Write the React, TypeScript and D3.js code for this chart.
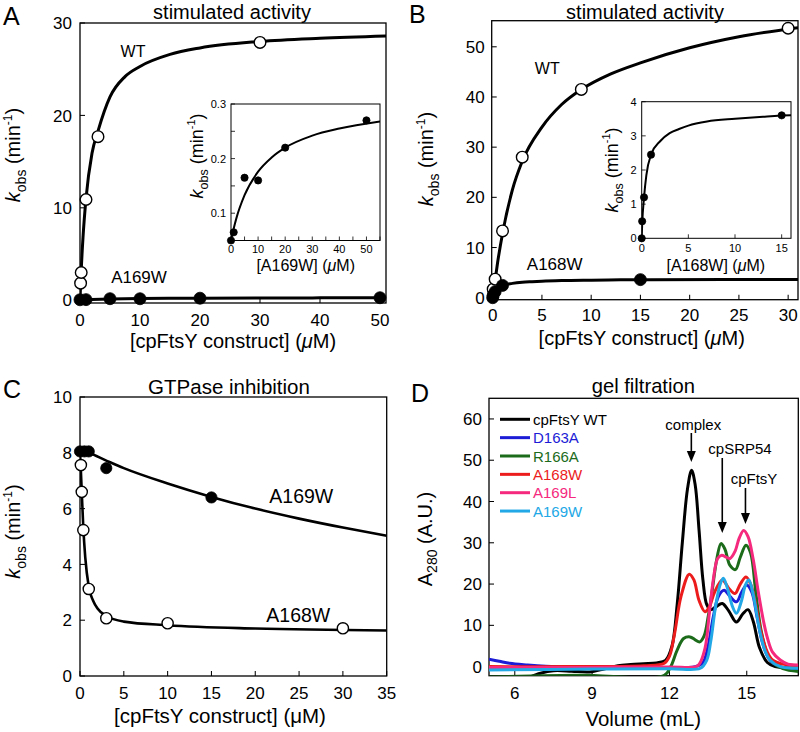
import React from "react";
import * as d3 from "d3";

type P = [number, number];
const FONT = "'Liberation Sans', Arial, Helvetica, sans-serif";

// ---------------- Panel A ----------------
const aWTPoints: P[] = [[0.1, 1.85], [0.2, 3.0], [1, 10.9], [3, 17.7], [30, 27.9]];
const aWTFit: P[] = [[0, 0], [0.1, 1.7], [0.2, 3.2], [0.5, 6.8], [1, 11], [2, 15.9], [3, 18.3], [5, 22.0], [7.5, 24.2], [10, 25.3], [15, 26.6], [20, 27.3], [30, 28], [40, 28.35], [51, 28.6]];
const a169WPoints: P[] = [[0, 0.05], [1, 0.065], [5, 0.165], [10, 0.16], [20, 0.22], [50, 0.27]];
const a169WFit: P[] = [[0, 0.05], [1, 0.072], [2, 0.091], [5, 0.133], [10, 0.176], [15, 0.202], [20, 0.22], [30, 0.242], [40, 0.255], [55, 0.268]];
const aXTicks = [0, 10, 20, 30, 40, 50];
const aYTicks = [0, 10, 20, 30];
const aInXTicks = [0, 10, 20, 30, 40, 50];
const aInXMinor = [5, 15, 25, 35, 45, 55];
const aInYTicks = [0.1, 0.2, 0.3];
const aInYMinor = [0.15, 0.25];

// ---------------- Panel B ----------------
const bWTPoints: P[] = [[0.05, 1.7], [0.25, 3.7], [1, 13.3], [3, 28], [9, 41.5], [30, 53.7]];
const bWTFit: P[] = [[0, 0], [0.25, 3.5], [0.5, 7], [1, 12.8], [2, 21.5], [3, 27.2], [5, 34], [7, 38.5], [9, 41.5], [12, 44.6], [15, 46.8], [20, 49.8], [25, 52], [31, 53.8]];
const b168WPoints: P[] = [[0, 0], [0.05, 0.5], [0.25, 1.2], [1, 2.45], [15, 3.6]];
const b168WFit: P[] = [[0, 0], [0.05, 0.4], [0.25, 1.2], [0.5, 1.85], [1, 2.45], [2, 2.85], [3, 3.08], [4, 3.2], [5, 3.3], [7, 3.42], [10, 3.5], [13, 3.56], [16, 3.6], [31, 3.63]];
const bXTicks = [0, 5, 10, 15, 20, 25, 30];
const bYTicks = [0, 10, 20, 30, 40, 50];
const bInXTicks = [0, 5, 10, 15];
const bInYTicks = [0, 1, 2, 3, 4];

// ---------------- Panel C ----------------
const c169WPoints: P[] = [[0, 8.05], [0.5, 8.05], [1, 8.05], [3, 7.45], [15, 6.4]];
const c169WFit: P[] = [[0, 8.1], [1, 8.0], [3, 7.72], [5, 7.45], [10, 6.9], [15, 6.42], [20, 6.0], [25, 5.64], [30, 5.32], [35, 5.03]];
const c168WPoints: P[] = [[0.1, 7.56], [0.2, 6.6], [0.38, 5.23], [1, 3.12], [3, 2.07], [10, 1.89], [30, 1.71]];
const c168WFit: P[] = [[0, 8.0], [0.1, 7.35], [0.2, 6.6], [0.38, 5.3], [0.6, 4.25], [1, 3.2], [1.5, 2.7], [2, 2.42], [3, 2.15], [5, 1.95], [10, 1.82], [20, 1.7], [35, 1.63]];
const cXTicks = [0, 5, 10, 15, 20, 25, 30, 35];
const cYTicks = [0, 2, 4, 6, 8, 10];

// ---------------- Panel D ----------------
const dNames = ["cpFtsY WT", "D163A", "R166A", "A168W", "A169L", "A169W"];
const dColors = ["#000000", "#1c1cd6", "#1b6b1b", "#ec1c1c", "#f5297d", "#22a8e6"];
const dWT: P[] = [[6.6, -2.5], [7.0, -1.6], [7.5, -1.0], [8.2, -1.1], [8.9, -1.3], [9.5, -0.5], [10.0, 0.2], [10.5, 0.5], [11.0, 0.7], [11.5, 0.9], [11.85, 1.5], [12.1, 5], [12.3, 15], [12.5, 30], [12.7, 43], [12.86, 47.6], [13.0, 44], [13.15, 33], [13.3, 21], [13.45, 15], [13.6, 13.8], [13.8, 14.5], [14.05, 15.3], [14.3, 13.5], [14.6, 10.8], [14.85, 12.8], [15.05, 13.8], [15.25, 11], [15.5, 4.5], [15.8, 1], [16.1, 0], [17, -0.3]];
const dD163A: P[] = [[5, 1.8], [5.4, 1.3], [5.8, 0.8], [6.5, 0.4], [7.2, 0.1], [8.5, -0.2], [9.8, -0.4], [11, -0.4], [12, -0.3], [13, 0], [13.3, 1], [13.5, 5], [13.7, 12], [13.9, 17], [14.12, 18.5], [14.35, 17], [14.6, 15.7], [14.8, 18], [15.0, 19.8], [15.2, 18], [15.4, 12], [15.6, 6], [15.85, 2], [16.1, 0.5], [16.5, -0.3], [17, -0.5]];
const dR166A: P[] = [[5, -2.5], [8.5, -2.1], [11.8, -2.1], [12.05, 0], [12.3, 4], [12.55, 6.8], [12.8, 7.2], [13.0, 6.5], [13.18, 6.0], [13.35, 7.5], [13.5, 12], [13.65, 18], [13.85, 26.5], [14.0, 29.8], [14.15, 28.5], [14.35, 24.5], [14.56, 23.5], [14.75, 26.5], [14.97, 29.4], [15.15, 27.5], [15.35, 18], [15.55, 9], [15.8, 3], [16.0, 1], [16.4, -0.5], [17, -1.2]];
const dA168W: P[] = [[5, 0], [8, 0], [11, 0.2], [11.8, 0.8], [12.0, 2.5], [12.2, 8], [12.45, 17], [12.77, 22.4], [12.95, 21], [13.15, 16], [13.38, 13.3], [13.55, 14.5], [13.75, 18], [14.05, 21], [14.3, 19], [14.54, 17.7], [14.75, 20], [14.97, 21.7], [15.15, 20], [15.35, 15], [15.55, 8.5], [15.8, 3.5], [16.0, 1.6], [16.4, 0.6], [17, 0.3]];
const dA169L: P[] = [[5, -0.2], [9, -0.2], [12, -0.1], [13.0, -0.1], [13.15, 0.5], [13.38, 4.4], [13.55, 13], [13.7, 21], [13.87, 26.2], [14.03, 27], [14.2, 26.5], [14.35, 26.2], [14.55, 28], [14.7, 31], [14.88, 33], [15.05, 31.5], [15.25, 26], [15.45, 18], [15.65, 11], [15.8, 7], [16.0, 3.5], [16.3, 1.6], [16.6, 0.6], [17, 0.4]];
const dA169W: P[] = [[5, -0.8], [9, -0.6], [12, -0.5], [13.2, -0.4], [13.45, 1.6], [13.6, 6], [13.77, 13.7], [13.95, 19.5], [14.09, 21.4], [14.25, 19], [14.45, 14.5], [14.6, 12.9], [14.8, 16], [14.95, 19.8], [15.08, 21], [15.25, 17.5], [15.5, 8.8], [15.7, 4], [15.9, 1.6], [16.3, 0], [17, -0.4]];
const dTraces = [dWT, dD163A, dR166A, dA168W, dA169L, dA169W];
const dXTicks = [6, 9, 12, 15];
const dYTicks = [0, 10, 20, 30, 40, 50, 60];
const dPeakLabels = ["complex", "cpSRP54", "cpFtsY"];
const dPeakX = [12.85, 14.05, 14.95];

// ---------------- scales ----------------
const axA = d3.scaleLinear().domain([0, 51]).range([80, 386]);
const ayA = d3.scaleLinear().domain([-0.3, 30]).range([303, 23]);
const axAi = d3.scaleLinear().domain([0, 55]).range([231, 380]);
const ayAi = d3.scaleLinear().domain([0.05, 0.3]).range([240.5, 104]);
const axB = d3.scaleLinear().domain([-0.1, 31]).range([491.7, 798]);
const ayB = d3.scaleLinear().domain([-0.4, 55.2]).range([299.7, 20.7]);
const axBi = d3.scaleLinear().domain([0, 16]).range([641.7, 791]);
const ayBi = d3.scaleLinear().domain([0, 4]).range([238.3, 101.7]);
const axC = d3.scaleLinear().domain([0, 35]).range([80, 386.7]);
const ayC = d3.scaleLinear().domain([0, 10]).range([676, 397]);
const axD = d3.scaleLinear().domain([5, 17]).range([489, 798.3]);
const ayD = d3.scaleLinear().domain([-2.2, 65]).range([675.7, 398.3]);

type S = d3.ScaleLinear<number, number>;

function lineFor(xs: S, ys: S, data: P[], curve: d3.CurveFactory = d3.curveMonotoneX) {
  return d3.line<P>().x((d) => xs(d[0])).y((d) => ys(d[1])).curve(curve)(data) || "";
}

function Axes(props: {
  xs: S; ys: S; xTicks: number[]; yTicks: number[]; xMinor?: number[]; yMinor?: number[];
  tick?: number; minor?: number; fs: number; xOff: number; yOff: number;
  fmtY?: (d: number) => string; sw?: number; fill?: string;
}) {
  const { xs, ys, xTicks, yTicks, xMinor = [], yMinor = [], tick = 5, minor = 3, fs, xOff, yOff, sw = 1.3, fill = "none" } = props;
  const fmtY = props.fmtY || ((d: number) => String(d));
  const [x0, x1] = xs.range();
  const [y0, y1] = ys.range();
  return (
    <g>
      <rect x={x0} y={y1} width={x1 - x0} height={y0 - y1} fill={fill} stroke="#000" strokeWidth={sw} />
      {xTicks.map((t) => (
        <line key={"xt" + t} x1={xs(t)} x2={xs(t)} y1={y0} y2={y0 - tick} stroke="#000" strokeWidth={sw * 0.8} />
      ))}
      {xMinor.map((t) => (
        <line key={"xm" + t} x1={xs(t)} x2={xs(t)} y1={y0} y2={y0 - minor} stroke="#000" strokeWidth={sw * 0.8} />
      ))}
      {yTicks.map((t) => (
        <line key={"yt" + t} x1={x0} x2={x0 + tick} y1={ys(t)} y2={ys(t)} stroke="#000" strokeWidth={sw * 0.8} />
      ))}
      {yMinor.map((t) => (
        <line key={"ym" + t} x1={x0} x2={x0 + minor} y1={ys(t)} y2={ys(t)} stroke="#000" strokeWidth={sw * 0.8} />
      ))}
      {xTicks.map((t) => (
        <text key={"xl" + t} x={xs(t)} y={y0 + xOff} textAnchor="middle" fontSize={fs}>{String(t)}</text>
      ))}
      {yTicks.map((t) => (
        <text key={"yl" + t} x={x0 - yOff} y={ys(t) + fs * 0.36} textAnchor="end" fontSize={fs}>{fmtY(t)}</text>
      ))}
    </g>
  );
}

function KLabel({ x, y, fs }: { x: number; y: number; fs: number }) {
  const sub = fs * 0.7;
  const sup = fs * 0.6;
  return (
    <text transform={`translate(${x},${y}) rotate(-90)`} textAnchor="middle" fontSize={fs}>
      <tspan fontStyle="italic">k</tspan>
      <tspan fontSize={sub} dy={fs * 0.28}>obs</tspan>
      <tspan dy={-fs * 0.28}>{"\u00a0(min"}</tspan>
      <tspan fontSize={sup} dy={-fs * 0.42}>-1</tspan>
      <tspan dy={fs * 0.42}>)</tspan>
    </text>
  );
}

function XLabel({ x, y, fs, label, italicMu = true }: { x: number; y: number; fs: number; label: string; italicMu?: boolean }) {
  return (
    <text x={x} y={y} textAnchor="middle" fontSize={fs}>
      {label + " ("}
      <tspan fontStyle={italicMu ? "italic" : "normal"}>μ</tspan>
      {"M)"}
    </text>
  );
}

function Points({ xs, ys, data, open, r }: { xs: S; ys: S; data: P[]; open: boolean; r: number }) {
  return (
    <g>
      {data.map((d, i) => (
        <circle key={i} cx={xs(d[0])} cy={ys(d[1])} r={r} fill={open ? "#fff" : "#000"} stroke="#000" strokeWidth={open ? 1.4 : 0.8} />
      ))}
    </g>
  );
}

function ClipRect({ id, xs, ys }: { id: string; xs: S; ys: S }) {
  const [x0, x1] = xs.range();
  const [y0, y1] = ys.range();
  return (
    <clipPath id={id}>
      <rect x={x0} y={y1} width={x1 - x0} height={y0 - y1} />
    </clipPath>
  );
}

export default function App() {
  const legendY0 = 419.3;
  const legendDy = 18.35;
  const arrows = [
    { ty: 430, y1: 433, y2: 462, tx: 693.3 },
    { ty: 453.5, y1: 458, y2: 533, tx: 740 },
    { ty: 483.5, y1: 488, y2: 524, tx: 754 },
  ];
  return (
    <svg width={800} height={732} style={{ position: "absolute", left: 0, top: 0, background: "#fff" }} fontFamily={FONT}>
      <defs>
        <ClipRect id="clipA" xs={axA} ys={ayA} />
        <ClipRect id="clipAi" xs={axAi} ys={ayAi} />
        <ClipRect id="clipB" xs={axB} ys={ayB} />
        <ClipRect id="clipBi" xs={axBi} ys={ayBi} />
        <ClipRect id="clipC" xs={axC} ys={ayC} />
        <ClipRect id="clipD" xs={axD} ys={ayD} />
      </defs>
      <rect x={0} y={0} width={800} height={732} fill="#fff" />

      {/* ===== Panel A ===== */}
      <text x={3} y={25} fontSize={25}>A</text>
      <text x={232} y={18.8} fontSize={20} textAnchor="middle">stimulated activity</text>
      <Axes xs={axA} ys={ayA} xTicks={aXTicks} yTicks={aYTicks} fs={17} xOff={23} yOff={8} />
      <g clipPath="url(#clipA)">
        <path d={lineFor(axA, ayA, aWTFit)} fill="none" stroke="#000" strokeWidth={3} />
        <path d={lineFor(axA, ayA, a169WFit)} fill="none" stroke="#000" strokeWidth={3} />
      </g>
      <Points xs={axA} ys={ayA} data={a169WPoints} open={false} r={6} />
      <Points xs={axA} ys={ayA} data={aWTPoints} open={true} r={5.8} />
      <text x={133} y={57} fontSize={16} textAnchor="middle">WT</text>
      <text x={139} y={283} fontSize={17} textAnchor="middle">A169W</text>
      <KLabel x={20} y={155} fs={20} />
      <XLabel x={233} y={348} fs={20} label="[cpFtsY construct]" />
      {/* inset A */}
      <Axes xs={axAi} ys={ayAi} xTicks={aInXTicks} yTicks={aInYTicks} xMinor={aInXMinor} yMinor={aInYMinor} tick={4} minor={4} fs={11} xOff={12} yOff={5} fmtY={(d) => d.toFixed(1)} sw={1} fill="#fff" />
      <g clipPath="url(#clipAi)">
        <path d={lineFor(axAi, ayAi, a169WFit)} fill="none" stroke="#000" strokeWidth={2} />
      </g>
      <Points xs={axAi} ys={ayAi} data={a169WPoints} open={false} r={3.6} />
      <KLabel x={203} y={156} fs={18} />
      <XLabel x={305.7} y={271} fs={16} label="[A169W]" />

      {/* ===== Panel B ===== */}
      <text x={409} y={23} fontSize={25}>B</text>
      <text x={645} y={18.8} fontSize={20} textAnchor="middle">stimulated activity</text>
      <Axes xs={axB} ys={ayB} xTicks={bXTicks} yTicks={bYTicks} fs={17} xOff={21} yOff={7} />
      <g clipPath="url(#clipB)">
        <path d={lineFor(axB, ayB, bWTFit)} fill="none" stroke="#000" strokeWidth={3} />
        <path d={lineFor(axB, ayB, b168WFit)} fill="none" stroke="#000" strokeWidth={3} />
      </g>
      <Points xs={axB} ys={ayB} data={bWTPoints} open={true} r={5.8} />
      <Points xs={axB} ys={ayB} data={b168WPoints} open={false} r={6} />
      <text x={547.3} y={74} fontSize={16} textAnchor="middle">WT</text>
      <text x={554.7} y={269.5} fontSize={17} textAnchor="middle">A168W</text>
      <KLabel x={433} y={159} fs={20} />
      <XLabel x={641.7} y={345} fs={20} label="[cpFtsY construct]" />
      {/* inset B */}
      <Axes xs={axBi} ys={ayBi} xTicks={bInXTicks} yTicks={bInYTicks} tick={4} fs={11} xOff={13.5} yOff={5} sw={1} fill="#fff" />
      <g clipPath="url(#clipBi)">
        <path d={lineFor(axBi, ayBi, b168WFit)} fill="none" stroke="#000" strokeWidth={2} />
      </g>
      <Points xs={axBi} ys={ayBi} data={b168WPoints} open={false} r={3.6} />
      <KLabel x={618} y={170} fs={18} />
      <XLabel x={715.8} y={271} fs={16} label="[A168W]" />

      {/* ===== Panel C ===== */}
      <text x={3} y={398} fontSize={25}>C</text>
      <text x={229} y={394} fontSize={20.5} textAnchor="middle">GTPase inhibition</text>
      <Axes xs={axC} ys={ayC} xTicks={cXTicks} yTicks={cYTicks} fs={17} xOff={23} yOff={8} />
      <g clipPath="url(#clipC)">
        <path d={lineFor(axC, ayC, c169WFit)} fill="none" stroke="#000" strokeWidth={2.6} />
        <path d={lineFor(axC, ayC, c168WFit)} fill="none" stroke="#000" strokeWidth={2.6} />
      </g>
      <Points xs={axC} ys={ayC} data={c169WPoints} open={false} r={5.6} />
      <Points xs={axC} ys={ayC} data={c168WPoints} open={true} r={5.6} />
      <text x={301.3} y={502.7} fontSize={19.5} textAnchor="middle">A169W</text>
      <text x={298.3} y={621.7} fontSize={19.5} textAnchor="middle">A168W</text>
      <KLabel x={20} y={531.5} fs={20} />
      <XLabel x={220} y={722.5} fs={20.5} label="[cpFtsY construct]" italicMu={false} />

      {/* ===== Panel D ===== */}
      <text x={411} y={402} fontSize={25}>D</text>
      <text x={643.3} y={393} fontSize={20.2} textAnchor="middle">gel filtration</text>
      <Axes xs={axD} ys={ayD} xTicks={dXTicks} yTicks={dYTicks} fs={17} xOff={23} yOff={7} />
      <g clipPath="url(#clipD)">
        {dTraces.map((tr, i) => (
          <path key={i} d={lineFor(axD, ayD, tr, d3.curveCatmullRom.alpha(0.5))} fill="none" stroke={dColors[i]} strokeWidth={3} strokeLinejoin="round" />
        ))}
      </g>
      {dNames.map((n, i) => (
        <g key={n}>
          <line x1={500} x2={530} y1={legendY0 + i * legendDy} y2={legendY0 + i * legendDy} stroke={dColors[i]} strokeWidth={3} />
          <text x={533} y={legendY0 + i * legendDy + 5.5} fontSize={15} fill={dColors[i]}>{n}</text>
        </g>
      ))}
      {arrows.map((a, i) => {
        const ax = axD(dPeakX[i]);
        return (
          <g key={dPeakLabels[i]}>
            <text x={a.tx} y={a.ty} fontSize={15} textAnchor="middle">{dPeakLabels[i]}</text>
            <line x1={ax} x2={ax} y1={a.y1} y2={a.y2 - 9} stroke="#000" strokeWidth={1.6} />
            <path d={`M${ax - 4.5},${a.y2 - 11} L${ax + 4.5},${a.y2 - 11} L${ax},${a.y2} Z`} fill="#000" />
          </g>
        );
      })}
      <text transform={`translate(431.7,539) rotate(-90)`} textAnchor="middle" fontSize={20}>
        A<tspan fontSize={14} dy={5}>280</tspan>
        <tspan dy={-5}>{"\u00a0(A.U.)"}</tspan>
      </text>
      <text x={643.3} y={726} fontSize={20.4} textAnchor="middle">Volume (mL)</text>
    </svg>
  );
}
